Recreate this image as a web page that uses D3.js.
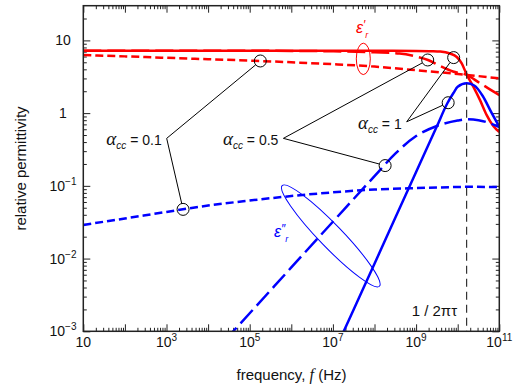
<!DOCTYPE html>
<html>
<head>
<meta charset="utf-8">
<script src="https://cdn.jsdelivr.net/npm/d3@7"></script>
<style>
  html, body { margin: 0; padding: 0; background: #fff; }
  svg { display: block; font-family: "Liberation Sans", Arial, sans-serif; }
</style>
</head>
<body>
<svg id="chart" width="513" height="390"></svg>
<script>
// Cole-Cole relative permittivity vs frequency, three distribution parameters.
// Each series: [frequency (Hz), value]
const epsReal_a1 = [[1e1,7.2],[1e3,7.2],[1e5,7.2],[1e7,7.2],[1e8,7.2],[1e9,7.17],[2.5e9,7.12],[3.8e9,7.04],[6.5e9,6.6],[9.5e9,5.91],[1.25e10,4.84],[1.64e10,3.4],[2.37e10,2.31],[3.44e10,1.51],[4.98e10,0.94],[7.18e10,0.665],[1e11,0.55]];
const epsReal_a05 = [[1e1,7.2],[1e5,7.19],[1e6,7.16],[1e7,7.08],[1e8,6.85],[4e8,6.6],[1e9,6.0],[1.93e9,5.38],[3.76e9,4.44],[7.7e9,3.73],[1.64e10,3.36],[3.44e10,2.57],[8.6e10,1.87],[1e11,1.77]];
const epsReal_a01 = [[1e1,6.3],[1e2,6.03],[1e3,5.76],[1e4,5.51],[1e5,5.27],[1e6,5.0],[1e7,4.71],[1e8,4.36],[1e9,3.89],[1e10,3.45],[1e11,3.01]];
const epsImag_a01 = [[1e1,0.029],[1e2,0.0356],[1e3,0.0438],[1e4,0.0536],[1e5,0.0628],[1e6,0.0724],[1e7,0.0814],[1e8,0.0889],[1e9,0.0933],[1e10,0.0964],[1.64e10,0.097],[1e11,0.096]];
const epsImag_a05 = [[1e4,4.2e-4],[1e5,0.00177],[1e6,0.00755],[1e7,0.0321],[1e8,0.136],[3.16e8,0.277],[1e9,0.484],[3.16e9,0.665],[1e10,0.791],[1.64e10,0.822],[3.16e10,0.80],[1e11,0.644]];
const epsImag_a1 = [[1e7,4.7e-4],[3.16e7,0.0020],[1e8,0.0085],[3.16e8,0.0363],[1e9,0.155],[3.16e9,0.658],[5.6e9,1.355],[7.9e9,1.89],[1e10,2.3],[1.64e10,2.57],[2.5e10,2.40],[4e10,1.72],[6.3e10,1.05],[1e11,0.65]];

// relaxation frequency 1/(2*pi*tau)
const relaxFreq = 1.64e10;

// alpha labels: junction point and the marked points on the curves
const alphaValues = ["0.1", "0.5", "1"];
const alphaJunctions = [[1.01e3, 0.45], [6.45e5, 0.45], [5.94e8, 0.76]];
const alphaMarks = [
  [[1.8e5, 5.21], [2.5e3, 0.0475]],
  [[1.9e9, 5.38], [1.8e8, 0.19]],
  [[8e9, 5.8], [5.9e9, 1.39]]
];

const xMajor = d3.range(1, 12).map(e => Math.pow(10, e));
const xLabeled = [1, 3, 5, 7, 9, 11];
const yMajor = [-3, -2, -1, 0, 1];

const RED = "#ff0000", BLUE = "#0000ff";

const svg = d3.select("#chart");
const L = 83.3, R = 499.3, T = 5.7, B = 331.3;

const x = d3.scaleLog().domain([10, 1e11]).range([L, R]);
const y = d3.scaleLog().domain([1e-3, 30]).range([B, T]);

const xMinor = [];
for (let e = 1; e <= 10; e++) for (let m = 2; m <= 9; m++) xMinor.push(m * Math.pow(10, e));
const yMinor = [];
for (let e = -3; e <= 1; e++) for (let m = 2; m <= 9; m++) { const v = m * Math.pow(10, e); if (v < 30) yMinor.push(v); }

svg.append("defs").append("clipPath").attr("id", "plotclip")
  .append("rect").attr("x", L).attr("y", T).attr("width", R - L).attr("height", B - T);

// ticks on all four sides, pointing inward
function tickAxis(gen, tx, ty, values, size) {
  const g = svg.append("g").attr("transform", `translate(${tx},${ty})`)
    .call(gen.tickValues(values).tickSize(-size).tickFormat(""));
  g.select(".domain").remove();
  g.selectAll("line").attr("stroke", "#222").attr("stroke-width", 1);
}
tickAxis(d3.axisBottom(x), 0, B, xMajor, 7);
tickAxis(d3.axisBottom(x), 0, B, xMinor, 3.5);
tickAxis(d3.axisTop(x), 0, T, xMajor, 7);
tickAxis(d3.axisTop(x), 0, T, xMinor, 3.5);
tickAxis(d3.axisLeft(y), L, 0, yMajor.map(e => Math.pow(10, e)), 7);
tickAxis(d3.axisLeft(y), L, 0, yMinor, 3.5);
tickAxis(d3.axisRight(y), R, 0, yMajor.map(e => Math.pow(10, e)), 7);
tickAxis(d3.axisRight(y), R, 0, yMinor, 3.5);

// tick labels
const xl = svg.append("g").attr("font-size", 14).attr("fill", "#111");
xLabeled.forEach(e => {
  const t = xl.append("text").attr("x", x(Math.pow(10, e))).attr("y", B + 16).attr("text-anchor", "middle");
  t.append("tspan").text("10");
  if (e !== 1) t.append("tspan").attr("font-size", 10).attr("dy", -6).text(String(e));
});
const yl = svg.append("g").attr("font-size", 14).attr("fill", "#111");
yMajor.forEach(e => {
  const t = yl.append("text").attr("x", 63).attr("y", y(Math.pow(10, e)) + 5).attr("text-anchor", "middle");
  if (e === 1) t.text("10");
  else if (e === 0) t.text("1");
  else {
    t.append("tspan").text("10");
    t.append("tspan").attr("font-size", 10).attr("dy", -6).text("\u2212" + (-e));
  }
});

// axis titles
svg.append("text").attr("transform", "translate(26,168.5) rotate(-90)")
  .attr("text-anchor", "middle").attr("font-size", 15).attr("fill", "#111")
  .text("relative permittivity");
const xt = svg.append("text").attr("x", 291.5).attr("y", 380).attr("text-anchor", "middle")
  .attr("font-size", 15).attr("fill", "#111");
xt.append("tspan").text("frequency, ");
xt.append("tspan").attr("font-family", "'Liberation Serif', 'Times New Roman', serif").attr("font-style", "italic").attr("font-size", 16).text("f");
xt.append("tspan").text(" (Hz)");

// curves
const line = d3.line().x(d => x(d[0])).y(d => y(d[1])).curve(d3.curveMonotoneX);
const plot = svg.append("g").attr("clip-path", "url(#plotclip)");
const series = [
  { data: epsReal_a01, color: RED, dash: "8,4" },
  { data: epsReal_a05, color: RED, dash: "18,6" },
  { data: epsReal_a1, color: RED, dash: null },
  { data: epsImag_a01, color: BLUE, dash: "8,4" },
  { data: epsImag_a05, color: BLUE, dash: "18,6" },
  { data: epsImag_a1, color: BLUE, dash: null }
];
series.forEach(s => {
  plot.append("path").attr("d", line(s.data)).attr("fill", "none")
    .attr("stroke", s.color).attr("stroke-width", 2.5)
    .attr("stroke-dasharray", s.dash);
});

// relaxation frequency marker
svg.append("line").attr("x1", x(relaxFreq)).attr("x2", x(relaxFreq)).attr("y1", T).attr("y2", B)
  .attr("stroke", "#222").attr("stroke-width", 1.1).attr("stroke-dasharray", "8,5");
svg.append("text").attr("x", x(relaxFreq) - 9.5).attr("y", 316).attr("text-anchor", "end")
  .attr("font-size", 15).attr("fill", "#111")
  .text("1 / 2\u03C0\u03C4");

// ellipses grouping the real and imaginary parts
svg.append("ellipse").attr("cx", x(5.38e7)).attr("cy", y(5.57)).attr("rx", 7).attr("ry", 15.7)
  .attr("fill", "none").attr("stroke", RED).attr("stroke-width", 1);
svg.append("ellipse").attr("rx", 70).attr("ry", 11.5)
  .attr("transform", `translate(${x(8.9e6)},${y(0.0205)}) rotate(46)`)
  .attr("fill", "none").attr("stroke", BLUE).attr("stroke-width", 1);

const er = svg.append("text").attr("x", 356).attr("y", 33).attr("fill", RED).attr("font-size", 16).attr("font-style", "italic");
er.append("tspan").text("\u03B5");
er.append("tspan").attr("font-size", 12).attr("dy", -4).text("\u2032");
er.append("tspan").attr("font-size", 9).attr("dy", 9).text("r");
const ei = svg.append("text").attr("x", 274).attr("y", 237).attr("fill", BLUE).attr("font-size", 16).attr("font-style", "italic");
ei.append("tspan").text("\u03B5");
ei.append("tspan").attr("font-size", 12).attr("dy", -4).text("\u2033");
ei.append("tspan").attr("font-size", 9).attr("dy", 9).text("r");

// alpha annotations: leader lines, circles, labels
const ann = svg.append("g");
const rC = 6;
alphaValues.forEach((a, i) => {
  const jx = x(alphaJunctions[i][0]), jy = y(alphaJunctions[i][1]);
  alphaMarks[i].forEach(m => {
    const cx = x(m[0]), cy = y(m[1]);
    const dx = cx - jx, dy = cy - jy, len = Math.hypot(dx, dy);
    ann.append("line").attr("x1", jx).attr("y1", jy)
      .attr("x2", cx - rC * dx / len).attr("y2", cy - rC * dy / len)
      .attr("stroke", "#000").attr("stroke-width", 1);
    ann.append("circle").attr("cx", cx).attr("cy", cy).attr("r", rC)
      .attr("fill", "none").attr("stroke", "#000").attr("stroke-width", 1);
  });
  const t = ann.append("text").attr("x", jx - 5).attr("y", jy + 7).attr("text-anchor", "end").attr("fill", "#111");
  t.append("tspan").attr("font-family", "'Liberation Serif', 'Times New Roman', serif")
    .attr("font-style", "italic").attr("font-size", 19).text("\u03B1");
  t.append("tspan").attr("font-style", "italic").attr("font-size", 10).attr("dy", 4).text("cc");
  t.append("tspan").attr("font-size", 14).attr("dy", -4).text(" = " + a);
});

// frame
svg.append("rect").attr("x", L).attr("y", T).attr("width", R - L).attr("height", B - T)
  .attr("fill", "none").attr("stroke", "#222").attr("stroke-width", 1.5);
</script>
</body>
</html>
